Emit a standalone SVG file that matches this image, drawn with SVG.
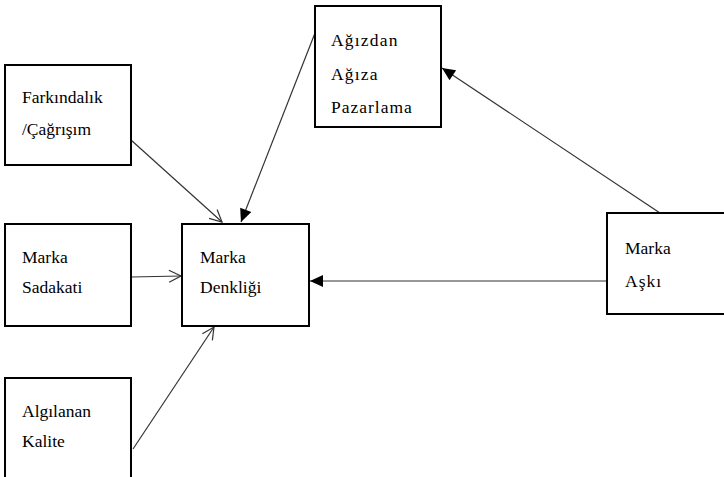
<svg xmlns="http://www.w3.org/2000/svg" width="724" height="477" viewBox="0 0 724 477">
<style>
.box{fill:#fff;stroke:#000;stroke-width:2}
.t{font-family:"Liberation Serif","Times New Roman",serif;font-size:17.5px;fill:#000}
.c{stroke:#333;stroke-width:1.2;fill:none}
</style>
<defs>
<marker id="open" markerUnits="userSpaceOnUse" markerWidth="16" markerHeight="16" refX="14" refY="8" orient="auto">
<path d="M2,2 L14,8 L2,14" fill="none" stroke="#333" stroke-width="1.2"/>
</marker>
<marker id="fill" markerUnits="userSpaceOnUse" markerWidth="16" markerHeight="16" refX="14" refY="8" orient="auto">
<path d="M1,2 L14,8 L1,14 Z" fill="#000"/>
</marker>
</defs>
<rect width="724" height="477" fill="#fff"/>
<g id="connectors">
<line class="c" x1="131" y1="140" x2="222" y2="222" marker-end="url(#open)"/>
<line class="c" x1="131" y1="277" x2="181" y2="276" marker-end="url(#open)"/>
<line class="c" x1="133" y1="449" x2="214" y2="327" marker-end="url(#open)"/>
<line class="c" x1="315" y1="33" x2="241" y2="222" marker-end="url(#fill)"/>
<line class="c" x1="607" y1="281" x2="310" y2="281" marker-end="url(#fill)"/>
<line class="c" x1="660" y1="213" x2="442" y2="68" marker-end="url(#fill)"/>
</g>
<g id="farkindalik">
<rect class="box" x="5" y="65" width="126" height="100"/>
<text class="t" x="22" y="103">Farkındalık</text>
<text class="t" x="22" y="135">/Çağrışım</text>
</g>
<g id="sadakat">
<rect class="box" x="5" y="224" width="126" height="102"/>
<text class="t" x="22" y="263">Marka</text>
<text class="t" x="22" y="293">Sadakati</text>
</g>
<g id="kalite">
<rect class="box" x="5" y="378" width="126" height="110"/>
<text class="t" x="22" y="417">Algılanan</text>
<text class="t" x="22" y="447">Kalite</text>
</g>
<g id="denklik">
<rect class="box" x="182" y="224" width="127" height="102"/>
<text class="t" x="200" y="263">Marka</text>
<text class="t" x="200" y="293">Denkliği</text>
</g>
<g id="agizdan">
<rect class="box" x="315" y="6" width="126" height="121"/>
<text class="t" x="331" y="46" letter-spacing="1.2">Ağızdan</text>
<text class="t" x="331" y="80" letter-spacing="1.2">Ağıza</text>
<text class="t" x="331" y="113" letter-spacing="1">Pazarlama</text>
</g>
<g id="ask">
<rect class="box" x="607" y="213" width="120" height="101"/>
<text class="t" x="625" y="254">Marka</text>
<text class="t" x="625" y="287" letter-spacing="1">Aşkı</text>
</g>
</svg>
